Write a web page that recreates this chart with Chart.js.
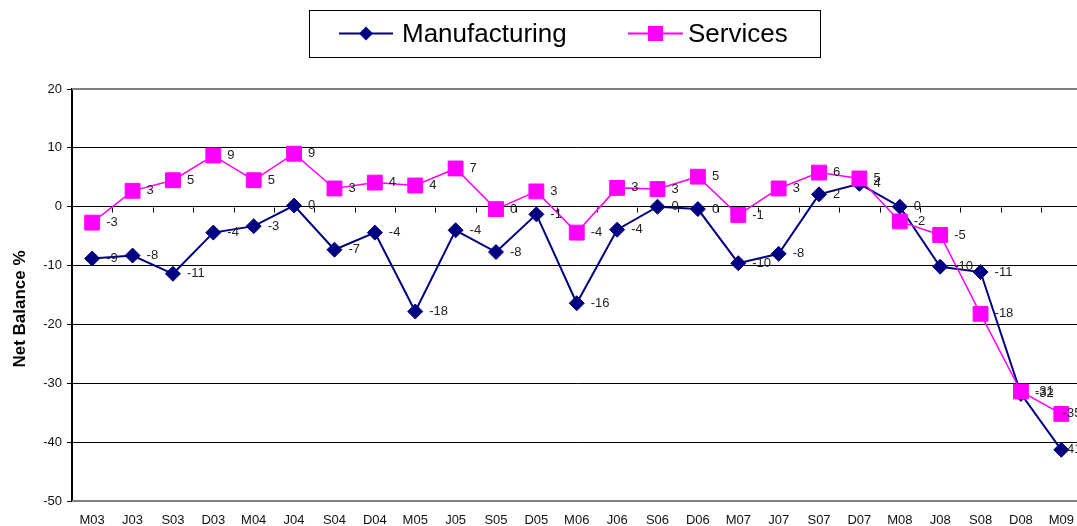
<!DOCTYPE html>
<html>
<head>
<meta charset="utf-8">
<script src="https://cdn.jsdelivr.net/npm/chart.js@4.4.1/dist/chart.umd.min.js"></script>
<style>
  html, body { margin: 0; padding: 0; background: #fff; overflow: hidden; }
  #wrap { width: 1077px; height: 526px; overflow: hidden; }
</style>
</head>
<body>
<div id="wrap"><canvas id="chart" width="1093" height="526"></canvas></div>
<script>
const quarters = ['M03', 'J03', 'S03', 'D03', 'M04', 'J04', 'S04', 'D04', 'M05', 'J05', 'S05', 'D05',
  'M06', 'J06', 'S06', 'D06', 'M07', 'J07', 'S07', 'D07', 'M08', 'J08', 'S08', 'D08', 'M09'];
const manufacturing = [-8.8, -8.3, -11.4, -4.4, -3.3, 0.2, -7.3, -4.4, -17.8, -4.0, -7.7, -1.3,
  -16.4, -3.9, 0.0, -0.4, -9.6, -8.0, 2.1, 3.9, 0.0, -10.2, -11.1, -31.8, -41.3];
const services = [-2.7, 2.7, 4.5, 8.7, 4.5, 9.0, 3.1, 4.1, 3.6, 6.5, -0.4, 2.6,
  -4.4, 3.2, 3.0, 5.1, -1.4, 3.1, 5.8, 4.8, -2.5, -4.8, -18.2, -31.4, -35.2];
const seriesNames = ['Manufacturing', 'Services'];
const yMin = -50, yMax = 20, yStep = 10;

const FONT = 'Liberation Sans, Arial, sans-serif';
const NAVY = '#000080';
const MAGENTA = '#FF00FF';

// value labels to the right of each point, kept inside the plot area
const valueLabels = {
  id: 'valueLabels',
  afterDatasetsDraw(chart) {
    const ctx = chart.ctx;
    const right = chart.chartArea.right;
    ctx.save();
    ctx.font = '13px ' + FONT;
    ctx.fillStyle = '#222';
    ctx.textAlign = 'left';
    ctx.textBaseline = 'middle';
    chart.data.datasets.forEach((ds, i) => {
      const meta = chart.getDatasetMeta(i);
      meta.data.forEach((pt, j) => {
        const txt = String(Math.round(ds.data[j]));
        const w = ctx.measureText(txt).width;
        ctx.fillText(txt, Math.min(pt.x + 14, right - w), pt.y);
      });
    });
    ctx.restore();
  }
};

// plot frame, tick marks on the zero line, legend box and y title
const frame = {
  id: 'frame',
  beforeDatasetsDraw(chart) {
    const { ctx, chartArea: a, scales } = chart;
    ctx.save();
    ctx.strokeStyle = '#808080';
    ctx.lineWidth = 2;
    ctx.beginPath();
    ctx.moveTo(a.left, a.top);
    ctx.lineTo(a.right, a.top);
    ctx.moveTo(a.left, a.bottom);
    ctx.lineTo(a.right, a.bottom);
    ctx.stroke();

    // category tick marks hang below the 0 line
    const x = scales.x;
    const y0 = Math.round(scales.y.getPixelForValue(0)) + 0.5;
    const half = (x.getPixelForValue(1) - x.getPixelForValue(0)) / 2;
    ctx.strokeStyle = '#000';
    ctx.lineWidth = 1;
    ctx.beginPath();
    for (let i = 0; i < quarters.length; i++) {
      const bx = Math.round(x.getPixelForValue(i) + half) + 0.5;
      ctx.moveTo(bx, y0);
      ctx.lineTo(bx, y0 + 5);
    }
    ctx.stroke();
    ctx.restore();
  },
  afterDraw(chart) {
    const ctx = chart.ctx;
    ctx.save();
    // legend
    ctx.strokeStyle = '#000';
    ctx.lineWidth = 1;
    ctx.strokeRect(309.5, 10.5, 511, 47);
    const items = [
      { x1: 339, x2: 393, text: 402 },
      { x1: 628, x2: 683, text: 688 }
    ];
    const ly = 33.5;
    chart.data.datasets.forEach((ds, i) => {
      const it = items[i];
      const cx = (it.x1 + it.x2) / 2;
      ctx.strokeStyle = ds.borderColor;
      ctx.lineWidth = 2;
      ctx.beginPath();
      ctx.moveTo(it.x1, ly);
      ctx.lineTo(it.x2, ly);
      ctx.stroke();
      ctx.fillStyle = ds.borderColor;
      ctx.beginPath();
      if (ds.pointStyle === 'rectRot') {
        ctx.moveTo(cx, ly - 7);
        ctx.lineTo(cx + 7, ly);
        ctx.lineTo(cx, ly + 7);
        ctx.lineTo(cx - 7, ly);
        ctx.closePath();
      } else {
        ctx.rect(cx - 7.5, ly - 7.5, 15, 15);
      }
      ctx.fill();
      ctx.fillStyle = '#000';
      ctx.font = '26px ' + FONT;
      ctx.textAlign = 'left';
      ctx.textBaseline = 'middle';
      ctx.fillText(ds.label, it.text, ly + 1);
    });

    // y axis title
    ctx.translate(20, 309);
    ctx.rotate(-Math.PI / 2);
    ctx.font = 'bold 17px ' + FONT;
    ctx.fillStyle = '#000';
    ctx.textAlign = 'center';
    ctx.textBaseline = 'middle';
    ctx.fillText('Net Balance %', 0, 0);
    ctx.restore();
  }
};

const data = {
  labels: quarters,
  datasets: [
    {
      label: seriesNames[0],
      data: manufacturing,
      borderColor: NAVY,
      backgroundColor: NAVY,
      borderWidth: 2,
      pointStyle: 'rectRot',
      pointRadius: 7.5,
      pointBorderWidth: 1,
      pointBorderColor: NAVY,
      pointBackgroundColor: NAVY,
      tension: 0,
      order: 1
    },
    {
      label: seriesNames[1],
      data: services,
      borderColor: MAGENTA,
      backgroundColor: MAGENTA,
      borderWidth: 1.5,
      pointStyle: 'rect',
      pointRadius: 10.5,
      pointBorderWidth: 1,
      pointBorderColor: MAGENTA,
      pointBackgroundColor: MAGENTA,
      tension: 0,
      order: 0
    }
  ]
};

const options = {
  responsive: false,
  animation: false,
  devicePixelRatio: 1,
  layout: { padding: { top: 89, left: 0, right: 0, bottom: 0 } },
  plugins: {
    legend: { display: false },
    tooltip: { enabled: false }
  },
  scales: {
    x: {
      offset: true,
      grid: { display: false, drawTicks: false },
      border: { display: false },
      ticks: {
        autoSkip: false, maxRotation: 0, minRotation: 0, padding: 12,
        color: '#111', font: { family: FONT, size: 13 }
      },
      afterFit: (s) => { s.height = 25; }
    },
    y: {
      min: yMin,
      max: yMax,
      ticks: { stepSize: yStep, padding: 5, color: '#111', font: { family: FONT, size: 13 } },
      grid: {
        color: (c) => (c.tick && (c.tick.value === yMax || c.tick.value === yMin)) ? '#808080' : '#000',
        tickColor: '#000',
        lineWidth: 1,
        tickLength: 5
      },
      border: { color: '#000', width: 2 },
      afterFit: (s) => { s.width = 72; }
    }
  }
};

new Chart(document.getElementById('chart'), {
  type: 'line',
  data,
  options,
  plugins: [frame, valueLabels]
});
</script>
</body>
</html>
